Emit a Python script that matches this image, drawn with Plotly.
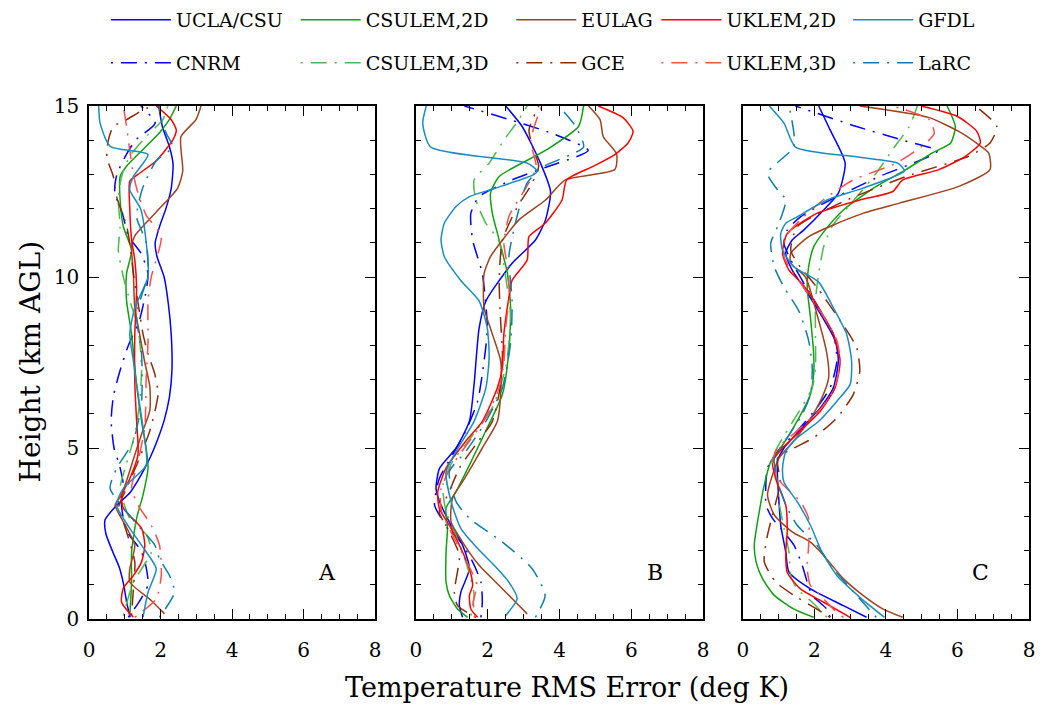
import plotly.graph_objects as go

FONT = "DejaVu Serif"

# ---------------- tick labels ----------------
x_ticks = [0, 2, 4, 6, 8]
y_ticks = [0, 5, 10, 15]
panel_labels = ["A", "B", "C"]

# ---------------- models ----------------
models = ["UCLA/CSU", "CNRM", "CSULEM,2D", "CSULEM,3D", "EULAG", "GCE",
          "UKLEM,2D", "UKLEM,3D", "GFDL", "LaRC"]
colors = ["#0000FF", "#0000FF", "#11A011", "#4CBB4C", "#A0421E", "#8B2A08",
          "#FF0000", "#FF4D4D", "#1A8CC0", "#0E7FA6"]
styles = ["solid", "dd", "solid", "dd", "solid", "dd", "solid", "dd", "solid", "dd"]

# ================= Panel A =================
ucla_A_z = [0.05, 0.5, 1.0, 1.5, 2.0, 2.5, 2.9, 3.3, 3.7, 4.2, 4.7, 5.2, 5.8, 6.5, 7.3, 8.3, 9.2, 10.0, 10.6, 11.0, 11.5, 12.0, 12.6, 13.3, 13.8, 14.4, 15.0]
ucla_A_x = [1.15, 1.05, 0.97, 0.85, 0.65, 0.47, 0.45, 0.75, 1.15, 1.45, 1.7, 1.9, 2.1, 2.25, 2.32, 2.3, 2.22, 2.1, 1.9, 1.85, 1.98, 2.15, 2.3, 2.35, 2.25, 2.05, 1.95]
cnrm_A_z = [0.05, 0.5, 1.0, 1.5, 2.0, 2.5, 3.0, 3.5, 4.0, 4.5, 5.0, 5.8, 6.5, 7.2, 8.0, 8.7, 9.5, 10.1, 10.7, 11.2, 11.8, 12.5, 13.0, 13.5, 14.0, 14.5, 15.0]
cnrm_A_x = [1.1, 1.4, 1.65, 1.6, 1.45, 1.1, 0.95, 0.9, 0.95, 0.85, 0.7, 0.62, 0.68, 0.85, 1.1, 1.4, 1.58, 1.65, 1.45, 1.1, 0.95, 0.72, 0.78, 1.0, 1.3, 1.85, 1.45]
c2d_A_z = [0.1, 1.08, 1.96, 2.94, 3.63, 4.41, 4.9, 5.78, 6.86, 8.33, 9.31, 10.1, 10.78, 11.47, 12.25, 12.94, 13.24, 13.73, 14.22, 14.61, 15.0]
c2d_A_x = [1.14, 1.19, 1.19, 1.33, 1.51, 1.65, 1.61, 1.47, 1.33, 1.19, 1.05, 1.05, 1.19, 0.96, 0.87, 0.87, 1.05, 1.51, 1.97, 2.25, 2.44]
c3d_A_z = [0.1, 1.08, 1.96, 2.45, 2.94, 3.82, 4.41, 5.39, 6.37, 7.35, 8.53, 9.31, 10.0, 10.78, 11.47, 12.25, 12.94, 13.53, 14.12, 14.61, 15.0]
c3d_A_x = [0.96, 1.24, 1.74, 1.61, 1.14, 0.87, 1.01, 1.28, 1.42, 1.47, 1.37, 1.14, 0.96, 0.82, 0.87, 0.82, 0.91, 1.14, 1.61, 2.07, 2.2]
eul_A_z = [0.15, 0.54, 1.08, 1.47, 2.16, 2.84, 3.33, 3.63, 4.2, 4.8, 5.4, 6.1, 6.8, 7.5, 8.3, 9.1, 10.1, 10.9, 11.2, 11.9, 12.6, 13.1, 14.1, 14.6, 15.0]
eul_A_x = [2.11, 1.74, 1.14, 1.14, 1.28, 0.96, 0.73, 0.91, 1.1, 1.28, 1.47, 1.7, 1.7, 1.56, 1.42, 1.28, 1.24, 1.19, 1.28, 1.88, 2.48, 2.62, 2.57, 2.99, 3.13]
gce_A_z = [0.1, 0.88, 1.67, 2.84, 3.24, 3.82, 4.6, 5.5, 6.57, 7.16, 7.75, 8.33, 8.92, 9.5, 10.1, 11.0, 11.5, 12.35, 12.94, 13.5, 14.0, 14.4, 14.6, 14.8, 15.0]
gce_A_x = [1.19, 1.24, 1.28, 0.96, 0.82, 1.05, 1.37, 1.7, 1.93, 1.84, 1.65, 1.51, 1.42, 1.33, 1.24, 1.14, 1.05, 0.77, 0.68, 0.5, 0.54, 0.68, 1.05, 1.37, 1.74]
uk2_A_z = [0.05, 0.49, 0.9, 1.27, 1.67, 2.16, 2.65, 3.24, 3.6, 4.1, 4.8, 5.8, 6.9, 8.3, 9.7, 10.5, 11.1, 12.0, 12.8, 13.0, 13.4, 14.0, 14.3, 14.6, 15.0]
uk2_A_x = [1.24, 0.91, 0.96, 1.24, 1.47, 1.56, 1.47, 0.96, 0.91, 1.14, 1.37, 1.33, 1.28, 1.28, 1.33, 1.28, 1.19, 1.14, 1.14, 1.37, 1.88, 2.34, 2.44, 2.3, 1.88]
uk3_A_z = [0.05, 0.59, 1.27, 2.16, 2.74, 3.33, 3.82, 4.6, 5.6, 7.06, 8.1, 9.3, 10.0, 11.2, 11.8, 12.45, 13.0, 13.7, 14.4, 15.0]
uk3_A_x = [1.28, 1.88, 2.02, 1.97, 1.74, 1.37, 1.19, 1.37, 1.56, 1.6, 1.65, 1.65, 1.74, 2.02, 1.6, 1.37, 1.24, 1.14, 1.05, 0.96]
gfdl_A_z = [0.05, 0.78, 1.47, 1.96, 2.65, 3.33, 3.82, 4.5, 5.6, 6.57, 7.55, 8.33, 9.1, 10.0, 11.0, 12.0, 12.55, 12.94, 13.58, 13.82, 14.5, 15.0]
gfdl_A_x = [1.51, 1.65, 1.88, 1.6, 1.14, 0.77, 0.96, 1.6, 1.51, 1.37, 1.24, 1.14, 1.28, 1.65, 1.6, 1.44, 1.14, 1.24, 1.65, 0.59, 0.31, 0.27]
larc_A_z = [0.05, 0.78, 1.27, 1.76, 2.16, 2.84, 3.82, 4.4, 5.2, 6.37, 7.75, 8.9, 10.1, 11.0, 11.76, 12.6, 13.4, 13.8, 14.2, 14.6, 15.0]
larc_A_x = [1.97, 2.39, 2.25, 1.97, 1.84, 1.28, 0.59, 0.77, 1.24, 1.47, 1.47, 1.33, 1.65, 1.6, 1.33, 1.5, 1.88, 2.34, 2.16, 2.02, 1.97]

# ================= Panel B =================
ucla_B_z = [0.05, 0.39, 0.78, 1.47, 2.16, 2.74, 3.43, 3.82, 4.41, 5.0, 5.78, 6.86, 8.5, 9.3, 10.4, 11.08, 11.67, 12.5, 13.33, 14.4, 15.0]
ucla_B_x = [1.3, 1.21, 1.25, 1.49, 1.3, 0.98, 0.66, 0.56, 0.66, 1.12, 1.49, 1.62, 1.76, 1.95, 2.68, 3.33, 3.61, 3.75, 3.47, 2.96, 2.5]
cnrm_B_z = [0.05, 0.49, 1.08, 1.67, 2.25, 2.74, 3.33, 4.1, 4.8, 5.5, 6.37, 7.55, 8.5, 10.1, 11.08, 11.86, 12.35, 12.84, 13.2, 13.7, 14.2, 15.0]
cnrm_B_x = [1.81, 1.85, 1.81, 1.58, 1.25, 0.84, 0.52, 0.65, 1.02, 1.39, 1.72, 1.9, 1.99, 1.85, 1.58, 1.53, 1.76, 2.68, 3.6, 4.8, 3.79, 1.35]
c2d_B_z = [0.05, 0.29, 0.69, 1.08, 1.96, 2.65, 3.24, 3.73, 4.5, 5.4, 6.57, 7.84, 9.1, 10.1, 11.08, 11.86, 12.45, 12.94, 13.7, 14.4, 15.0]
c2d_B_x = [1.44, 1.16, 0.93, 0.84, 0.84, 0.88, 0.84, 1.12, 1.49, 1.9, 2.41, 2.59, 2.64, 2.55, 2.32, 2.13, 2.08, 2.32, 3.61, 4.53, 4.67]
c3d_B_z = [0.1, 0.69, 1.18, 1.67, 2.45, 3.14, 3.92, 4.6, 5.3, 6.18, 7.35, 8.8, 10.0, 11.08, 11.57, 12.25, 12.84, 13.33, 14.0, 14.5, 15.0]
c3d_B_x = [1.53, 1.62, 1.53, 1.39, 1.12, 0.84, 0.75, 1.02, 1.53, 2.13, 2.5, 2.64, 2.5, 2.3, 1.95, 1.67, 1.62, 2.04, 2.45, 2.8, 3.1]
eul_B_z = [0.15, 0.49, 0.98, 1.57, 2.25, 2.84, 3.53, 4.1, 5.0, 5.78, 6.57, 7.55, 8.33, 9.1, 10.1, 10.6, 11.08, 11.67, 12.25, 12.84, 13.14, 13.6, 14.1, 14.6, 15.0]
eul_B_x = [3.1, 2.78, 2.32, 1.76, 1.3, 0.98, 1.02, 1.35, 1.85, 2.27, 2.36, 2.36, 2.13, 1.9, 1.9, 2.08, 2.41, 2.87, 3.61, 4.16, 5.54, 5.59, 5.22, 5.13, 4.81]
gce_B_z = [0.05, 0.39, 0.78, 1.86, 2.55, 3.14, 3.63, 4.41, 5.1, 5.78, 6.8, 7.75, 8.73, 9.9, 11.08, 12.0, 12.75, 13.24, 13.8, 14.3, 15.0]
gce_B_x = [1.67, 1.16, 1.07, 1.21, 0.93, 0.65, 0.89, 1.21, 1.67, 2.13, 2.35, 2.41, 2.36, 2.32, 2.41, 2.8, 3.24, 3.42, 3.25, 3.15, 3.42]
uk2_B_z = [0.05, 0.29, 0.69, 0.98, 1.47, 1.96, 2.65, 3.24, 3.73, 4.41, 5.2, 5.78, 6.76, 7.35, 8.33, 9.4, 9.9, 10.5, 11.18, 11.57, 12.25, 12.84, 13.24, 13.58, 13.92, 14.26, 14.66, 15.0]
uk2_B_x = [1.72, 1.53, 1.49, 1.58, 1.49, 1.3, 0.98, 0.65, 0.61, 0.84, 1.39, 1.85, 2.27, 2.41, 2.45, 2.59, 2.68, 3.1, 3.15, 3.6, 4.07, 4.2, 4.95, 5.54, 5.91, 6.05, 5.77, 5.08]
uk3_B_z = [0.05, 0.5, 1.0, 1.5, 2.0, 2.6, 3.2, 3.8, 4.4, 5.0, 5.8, 6.7, 7.5, 8.5, 9.5, 10.3, 11.0, 11.8, 12.5, 13.2, 14.0, 15.0]
uk3_B_x = [1.65, 1.6, 1.7, 1.5, 1.25, 0.95, 0.7, 0.7, 0.95, 1.35, 1.9, 2.3, 2.45, 2.5, 2.6, 2.55, 2.45, 2.6, 3.0, 3.35, 3.2, 3.5]
gfdl_B_z = [0.1, 0.59, 1.08, 1.57, 2.06, 2.65, 3.43, 4.3, 4.9, 5.78, 6.76, 7.65, 8.5, 9.3, 9.9, 10.6, 11.08, 11.57, 12.06, 12.35, 12.6, 12.99, 13.1, 13.33, 13.8, 14.5, 15.0]
gfdl_B_x = [2.5, 2.82, 2.59, 2.18, 1.72, 1.25, 0.98, 0.84, 1.12, 1.62, 1.95, 2.04, 1.99, 1.76, 1.25, 0.79, 0.7, 0.79, 1.12, 1.49, 2.22, 3.28, 3.38, 3.1, 0.41, 0.19, 0.29]
larc_B_z = [0.05, 0.69, 1.47, 2.25, 2.94, 3.43, 4.3, 4.9, 5.78, 6.76, 8.1, 9.3, 10.6, 11.7, 12.75, 13.2, 13.8, 14.4, 15.0]
larc_B_x = [3.33, 3.6, 3.24, 2.41, 1.49, 1.12, 0.93, 1.39, 1.95, 2.41, 2.64, 2.68, 2.59, 2.8, 3.1, 3.5, 4.67, 4.45, 3.98]

# ================= Panel C =================
ucla_C_z = [0.05, 0.39, 0.88, 1.37, 1.96, 2.74, 3.43, 4.1, 4.6, 5.0, 5.6, 6.18, 6.76, 7.55, 8.14, 8.92, 9.7, 10.2, 10.7, 11.08, 11.37, 11.96, 12.45, 13.33, 14.3, 15.0]
ucla_C_x = [3.46, 2.81, 1.89, 1.29, 1.2, 1.06, 1.01, 0.97, 0.97, 1.15, 1.66, 2.17, 2.53, 2.67, 2.58, 2.17, 1.7, 1.38, 1.2, 1.38, 1.7, 2.26, 2.67, 2.86, 2.44, 2.12]
cnrm_C_z = [0.05, 0.29, 0.69, 1.08, 1.57, 2.16, 2.65, 2.94, 3.33, 4.41, 4.9, 5.5, 6.18, 6.76, 7.55, 8.33, 9.1, 9.9, 10.5, 10.98, 11.37, 11.76, 12.25, 12.94, 13.68, 14.0, 14.4, 15.0]
cnrm_C_x = [2.44, 2.35, 1.94, 1.8, 1.66, 1.43, 1.06, 0.83, 0.65, 0.69, 0.97, 1.52, 2.07, 2.44, 2.63, 2.53, 2.12, 1.66, 1.34, 1.15, 1.24, 1.61, 2.44, 3.82, 5.44, 4.47, 3.18, 1.47]
c2d_C_z = [0.05, 0.29, 0.69, 1.18, 1.67, 2.16, 3.14, 3.92, 4.6, 5.0, 5.88, 6.57, 7.16, 7.75, 8.82, 9.7, 10.3, 10.88, 11.37, 11.96, 12.65, 13.14, 13.63, 13.92, 14.4, 15.0]
c2d_C_x = [1.98, 1.43, 0.88, 0.55, 0.37, 0.32, 0.46, 0.6, 0.78, 1.06, 1.57, 1.89, 1.98, 1.98, 1.89, 1.8, 1.84, 1.98, 2.3, 2.81, 3.73, 4.56, 5.3, 5.81, 5.94, 5.71]
c3d_C_z = [0.05, 0.49, 0.88, 1.27, 1.96, 2.65, 3.43, 4.1, 4.7, 5.2, 5.98, 6.76, 7.35, 8.33, 9.3, 10.1, 10.88, 11.47, 12.45, 13.04, 13.73, 14.4, 15.0]
c3d_C_x = [2.35, 1.94, 1.52, 1.34, 1.29, 1.15, 1.01, 0.95, 0.83, 1.06, 1.52, 1.94, 2.03, 2.03, 2.03, 2.12, 2.26, 2.49, 3.27, 3.73, 4.19, 4.65, 4.88]
eul_C_z = [0.05, 0.29, 0.69, 1.18, 1.86, 2.25, 2.55, 3.04, 3.63, 4.7, 5.1, 5.78, 6.47, 7.06, 7.75, 8.92, 10.0, 10.4, 10.69, 11.18, 11.52, 11.86, 12.16, 12.65, 13.14, 13.63, 13.87, 14.2, 14.66, 15.0]
eul_C_x = [4.47, 3.92, 3.36, 2.81, 2.26, 1.89, 1.38, 0.88, 0.69, 1.01, 1.34, 1.84, 2.21, 2.4, 2.35, 2.07, 1.75, 1.34, 1.34, 1.84, 2.53, 3.36, 4.38, 6.04, 6.91, 6.87, 6.59, 6.13, 5.21, 3.27]
gce_C_z = [0.05, 0.29, 0.69, 1.08, 1.67, 2.45, 3.24, 4.0, 4.7, 5.0, 5.3, 5.88, 6.57, 7.25, 7.94, 8.73, 9.7, 10.3, 10.78, 11.47, 12.2, 12.94, 13.53, 13.92, 14.4, 15.0]
gce_C_x = [2.44, 2.07, 1.43, 0.92, 0.6, 0.69, 0.88, 1.05, 0.97, 1.43, 1.98, 2.63, 3.09, 3.27, 3.18, 2.72, 2.07, 1.6, 1.34, 1.52, 2.8, 4.56, 6.31, 6.91, 7.1, 6.5]
uk2_C_z = [0.05, 0.49, 0.88, 1.37, 1.96, 2.55, 3.33, 4.1, 4.6, 5.0, 5.5, 6.08, 6.76, 7.55, 8.33, 9.1, 9.8, 10.2, 10.69, 11.27, 11.86, 12.25, 12.5, 12.84, 13.14, 13.53, 13.92, 14.26, 14.7, 15.0]
uk2_C_x = [3.0, 2.26, 1.61, 1.24, 1.2, 1.24, 1.2, 0.92, 0.83, 1.11, 1.61, 2.17, 2.58, 2.72, 2.53, 2.12, 1.66, 1.29, 1.11, 1.24, 2.07, 3.27, 4.19, 4.47, 5.48, 6.22, 6.64, 6.54, 5.99, 4.98]
uk3_C_z = [0.05, 0.29, 0.69, 0.98, 1.47, 2.16, 2.94, 3.43, 4.0, 4.6, 5.0, 5.5, 6.08, 6.67, 7.45, 8.14, 8.92, 9.7, 10.2, 10.6, 11.18, 11.67, 12.3, 12.84, 13.33, 13.9, 14.2, 14.6, 15.0]
uk3_C_x = [2.81, 2.53, 2.17, 1.89, 1.8, 1.84, 1.84, 1.61, 1.06, 0.83, 0.97, 1.52, 2.12, 2.53, 2.72, 2.63, 2.21, 1.7, 1.35, 1.15, 1.2, 1.61, 2.3, 3.09, 4.29, 5.1, 5.35, 5.21, 4.19]
gfdl_C_z = [0.05, 0.59, 1.27, 1.96, 2.74, 3.43, 4.0, 4.41, 4.9, 5.3, 5.78, 6.37, 6.86, 7.55, 8.33, 9.1, 9.85, 10.3, 10.78, 11.27, 11.57, 11.76, 12.25, 12.6, 13.1, 13.33, 13.5, 13.8, 14.5, 15.0]
gfdl_C_x = [3.96, 3.32, 2.63, 2.21, 1.89, 1.52, 1.15, 1.11, 1.2, 1.52, 2.12, 2.63, 3.0, 3.04, 2.9, 2.53, 2.12, 1.43, 1.11, 1.06, 1.2, 1.52, 2.35, 3.36, 4.52, 4.33, 3.27, 1.47, 1.15, 0.74]
larc_C_z = [0.05, 0.69, 1.47, 2.16, 2.74, 3.33, 4.0, 4.7, 5.3, 5.98, 6.57, 7.35, 8.14, 9.0, 9.7, 10.3, 10.98, 11.57, 12.25, 12.55, 13.04, 13.82, 15.0]
larc_C_x = [3.73, 3.18, 2.53, 2.07, 1.52, 1.2, 0.98, 0.88, 1.24, 1.66, 1.89, 1.94, 1.84, 1.57, 1.15, 0.88, 0.78, 1.01, 1.2, 0.97, 0.69, 1.43, 1.29]

panels = [
    [(ucla_A_x, ucla_A_z), (cnrm_A_x, cnrm_A_z), (c2d_A_x, c2d_A_z), (c3d_A_x, c3d_A_z),
     (eul_A_x, eul_A_z), (gce_A_x, gce_A_z), (uk2_A_x, uk2_A_z), (uk3_A_x, uk3_A_z),
     (gfdl_A_x, gfdl_A_z), (larc_A_x, larc_A_z)],
    [(ucla_B_x, ucla_B_z), (cnrm_B_x, cnrm_B_z), (c2d_B_x, c2d_B_z), (c3d_B_x, c3d_B_z),
     (eul_B_x, eul_B_z), (gce_B_x, gce_B_z), (uk2_B_x, uk2_B_z), (uk3_B_x, uk3_B_z),
     (gfdl_B_x, gfdl_B_z), (larc_B_x, larc_B_z)],
    [(ucla_C_x, ucla_C_z), (cnrm_C_x, cnrm_C_z), (c2d_C_x, c2d_C_z), (c3d_C_x, c3d_C_z),
     (eul_C_x, eul_C_z), (gce_C_x, gce_C_z), (uk2_C_x, uk2_C_z), (uk3_C_x, uk3_C_z),
     (gfdl_C_x, gfdl_C_z), (larc_C_x, larc_C_z)],
]

DASHDOT = "2px,8px,16px,8px"

def legend_id(i):
    col, row = i // 2, i % 2
    n = row * 5 + col + 1
    return "legend" if n == 1 else f"legend{n}"

fig = go.Figure()
for p, curves in enumerate(panels):
    xa = "x" if p == 0 else f"x{p+1}"
    ya = "y" if p == 0 else f"y{p+1}"
    for i, (xs, zs) in enumerate(curves):
        fig.add_trace(go.Scatter(
            x=xs, y=zs, mode="lines", name=models[i],
            xaxis=xa, yaxis=ya,
            line=dict(color=colors[i], width=1.5,
                      dash="solid" if styles[i] == "solid" else DASHDOT,
                      shape="spline", smoothing=0.6),
            legend=legend_id(i), legendgroup=models[i],
            showlegend=(p == 0), hoverinfo="skip",
        ))

L, R, B, T = 89, 12, 90, 102
W, H = 1047, 709
PW = W - L - R
PH = H - T - B

def px2fx(px):
    return (px - L) / PW

def py2fy(py):
    return (H - B - py) / PH

domains = [(89, 377), (418, 707), (747, 1035)]

axis_common = dict(showline=True, linecolor="black", linewidth=1.5, mirror="ticks",
                   ticks="inside", ticklen=10, tickwidth=1.2, tickcolor="black",
                   showgrid=False, zeroline=False,
                   tickfont=dict(family=FONT, size=20, color="black"))

layout = dict(
    width=W, height=H,
    margin=dict(l=L, r=R, t=T, b=B, pad=0),
    paper_bgcolor="white", plot_bgcolor="white",
    font=dict(family=FONT, color="black"),
)
for p in range(3):
    xn = "xaxis" if p == 0 else f"xaxis{p+1}"
    yn = "yaxis" if p == 0 else f"yaxis{p+1}"
    ya = "y" if p == 0 else f"y{p+1}"
    xa = "x" if p == 0 else f"x{p+1}"
    d0, d1 = domains[p]
    layout[xn] = dict(axis_common, domain=[px2fx(d0), px2fx(d1)], range=[0, 8],
                      tickvals=x_ticks, ticktext=[str(v) for v in x_ticks],
                      anchor=ya, ticklabelstandoff=12,
                      minor=dict(dtick=0.5, ticks="inside", ticklen=5, tickcolor="black",
                                 tickwidth=1.2, showgrid=False))
    layout[yn] = dict(axis_common, domain=[0, 1], range=[0, 15],
                      tickvals=y_ticks, ticktext=[str(v) for v in y_ticks],
                      anchor=xa, showticklabels=(p == 0), ticklabelstandoff=4,
                      minor=dict(dtick=1, ticks="inside", ticklen=5, tickcolor="black",
                                 tickwidth=1.2, showgrid=False))

col_px = [106, 297, 514, 660, 853]
row_py = [20, 63]
for row in range(2):
    for col in range(5):
        n = row * 5 + col + 1
        name = "legend" if n == 1 else f"legend{n}"
        layout[name] = dict(x=px2fx(col_px[col]), y=1 - row_py[row] / H, yref="container",
                            xanchor="left", yanchor="middle",
                            orientation="v", bgcolor="rgba(0,0,0,0)", borderwidth=0,
                            font=dict(family=FONT, size=19, color="black"),
                            itemwidth=60)

annotations = []
for p, lab in enumerate(panel_labels):
    xa = "x" if p == 0 else f"x{p+1}"
    ya = "y" if p == 0 else f"y{p+1}"
    annotations.append(dict(text=lab, x=6.65, y=1.35, xref=xa, yref=ya, showarrow=False,
                            xanchor="center", yanchor="middle",
                            font=dict(family=FONT, size=22, color="black")))
annotations.append(dict(text="Temperature RMS Error (deg K)", x=px2fx(570), y=py2fy(688),
                        xref="paper", yref="paper", showarrow=False,
                        xanchor="center", yanchor="middle",
                        font=dict(family=FONT, size=27, color="black")))
annotations.append(dict(text="Height (km AGL)", x=px2fx(30), y=py2fy(359), textangle=-90,
                        xref="paper", yref="paper", showarrow=False,
                        xanchor="center", yanchor="middle",
                        font=dict(family=FONT, size=28, color="black")))
layout["annotations"] = annotations

fig.update_layout(**layout)
fig.write_html("out.html")
